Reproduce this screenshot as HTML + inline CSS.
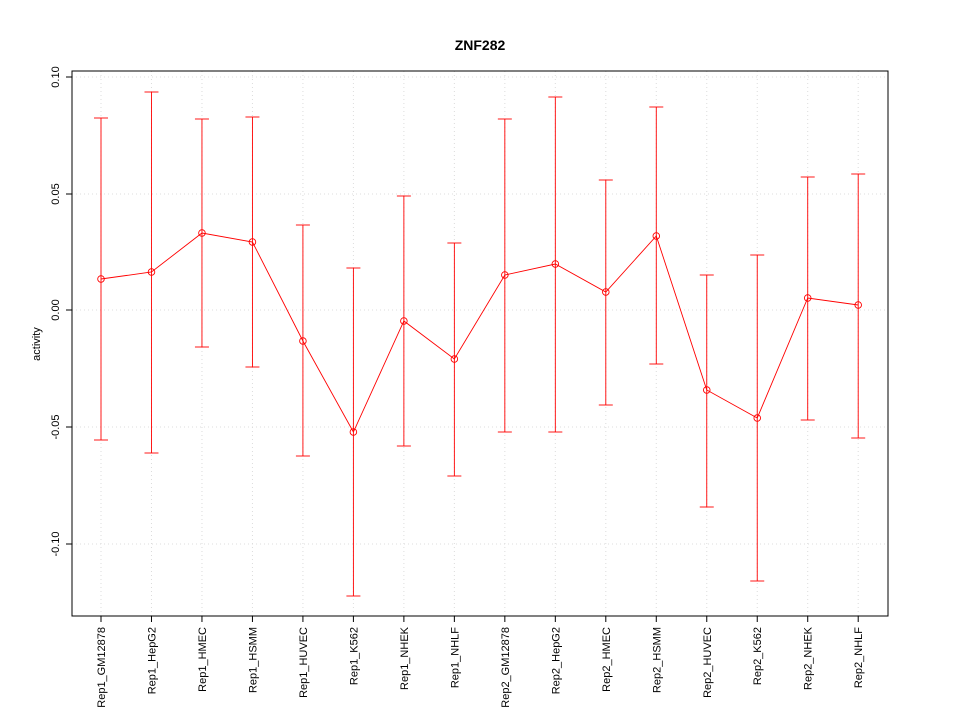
<!DOCTYPE html>
<html><head><meta charset="utf-8"><style>body{margin:0;background:#fff}</style></head><body>
<svg width="960" height="720" xmlns="http://www.w3.org/2000/svg" font-family="Liberation Sans, sans-serif">
<rect width="960" height="720" fill="#fff"/>
<text x="480" y="50" text-anchor="middle" font-size="14" font-weight="bold">ZNF282</text>
<g stroke="#dcdcdc" stroke-dasharray="1,3" stroke-width="1">
<line x1="72" x2="888" y1="77" y2="77"/><line x1="72" x2="888" y1="194" y2="194"/><line x1="72" x2="888" y1="310" y2="310"/><line x1="72" x2="888" y1="427" y2="427"/><line x1="72" x2="888" y1="544" y2="544"/>
</g>
<g id="vg" stroke="#dcdcdc" stroke-dasharray="1,3"></g>
<rect x="72" y="71" width="816" height="545" fill="none" stroke="#000"/>
<g font-size="11" text-anchor="middle">
<line x1="72" x2="66" y1="77" y2="77" stroke="#000"/><text transform="translate(59,77) rotate(-90)">0.10</text>
<line x1="72" x2="66" y1="194" y2="194" stroke="#000"/><text transform="translate(59,194) rotate(-90)">0.05</text>
<line x1="72" x2="66" y1="310" y2="310" stroke="#000"/><text transform="translate(59,310) rotate(-90)">0.00</text>
<line x1="72" x2="66" y1="427" y2="427" stroke="#000"/><text transform="translate(59,427) rotate(-90)">-0.05</text>
<line x1="72" x2="66" y1="544" y2="544" stroke="#000"/><text transform="translate(59,544) rotate(-90)">-0.10</text>
<text transform="translate(40,344) rotate(-90)" font-size="11">activity</text>
</g>
<g id="d"></g>
</svg>
<script>
var names=["Rep1_GM12878","Rep1_HepG2","Rep1_HMEC","Rep1_HSMM","Rep1_HUVEC","Rep1_K562","Rep1_NHEK","Rep1_NHLF","Rep2_GM12878","Rep2_HepG2","Rep2_HMEC","Rep2_HSMM","Rep2_HUVEC","Rep2_K562","Rep2_NHEK","Rep2_NHLF"];
var c=[279,272,233,242,341,432,321,359,275,264,292,236,390,418,298,305];
var t=[118,92,119,117,225,268,196,243,119,97,180,107,275,255,177,174];
var b=[440,453,347,367,456,596,446,476,432,432,405,364,507,581,420,438];
var s="",v="",pts=[];
for(var i=0;i<16;i++){var x=101+i*50.48;
v+='<line x1="'+x+'" x2="'+x+'" y1="71" y2="616"/>';
s+='<line x1="'+x+'" x2="'+x+'" y1="616" y2="622" stroke="#000"/>';
s+='<text transform="translate('+(x+4)+',627) rotate(-90)" font-size="11" text-anchor="end">'+names[i]+'</text>';
s+='<line x1="'+x+'" x2="'+x+'" y1="'+t[i]+'" y2="'+b[i]+'" stroke="red" stroke-width="0.9"/>';
s+='<line x1="'+(x-7)+'" x2="'+(x+7)+'" y1="'+t[i]+'" y2="'+t[i]+'" stroke="red" stroke-width="0.9"/>';
s+='<line x1="'+(x-7)+'" x2="'+(x+7)+'" y1="'+b[i]+'" y2="'+b[i]+'" stroke="red" stroke-width="0.9"/>';
s+='<circle cx="'+x+'" cy="'+c[i]+'" r="3.3" fill="none" stroke="red" stroke-width="0.9"/>';
pts.push(x+","+c[i]);}
s+='<polyline points="'+pts.join(" ")+'" fill="none" stroke="red" stroke-width="0.9"/>';
document.getElementById("vg").innerHTML=v;document.getElementById("d").innerHTML=s;
</script>
</body></html>
